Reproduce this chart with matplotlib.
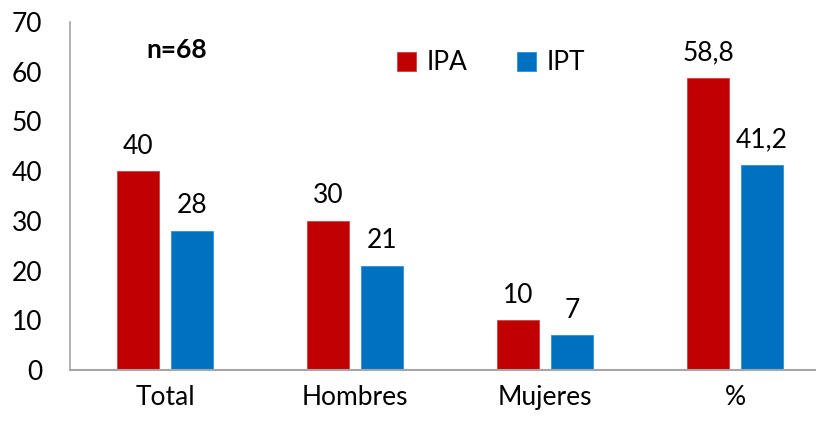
import numpy as np
import matplotlib.pyplot as plt

categories = ["Total", "Hombres", "Mujeres", "%"]
ipa = [40, 30, 10, 58.8]
ipt = [28, 21, 7, 41.2]
ipa_labels = ["40", "30", "10", "58,8"]
ipt_labels = ["28", "21", "7", "41,2"]

plt.rcParams["font.family"] = ["Lato", "DejaVu Sans"]
fs = 19

fig = plt.figure(figsize=(8.16, 4.21), dpi=100)
ax = fig.add_axes([70 / 816, 51 / 421, 760 / 816, 348 / 421])

x = np.arange(len(categories))
w = 0.22
off = 0.142
b1 = ax.bar(x - off, ipa, w, color="#C00000", edgecolor="#D04040", linewidth=0.6, label="IPA")
b2 = ax.bar(x + off, ipt, w, color="#0070C0", edgecolor="#3090D8", linewidth=0.6, label="IPT")

for bars, labs in ((b1, ipa_labels), (b2, ipt_labels)):
    for r, t in zip(bars, labs):
        ax.annotate(t, xy=(r.get_x() + r.get_width() / 2, r.get_height()),
                    xytext=(0, 9), textcoords="offset points",
                    ha="center", va="bottom", fontsize=fs, color="#000000")

ax.set_xlim(-0.5, 3.5)
ax.set_ylim(0, 70)
ax.set_yticks(range(0, 71, 10))
ax.set_xticks(x)
ax.set_xticklabels(categories)
ax.tick_params(axis="both", length=0, labelsize=fs, colors="#000000")
ax.tick_params(axis="y", pad=20)
ax.tick_params(axis="x", pad=11)
for s in ("top", "right"):
    ax.spines[s].set_visible(False)
ax.spines["left"].set_color("#A6A6A6")
ax.spines["bottom"].set_color("#A6A6A6")
ax.spines["left"].set_linewidth(1.2)
ax.spines["bottom"].set_linewidth(1.5)

fig.text(177 / 816, 1 - 50 / 421, "n=68", fontsize=fs, fontweight="bold",
         ha="center", va="center")

fig.legend(handles=[b1, b2], loc="center", bbox_to_anchor=(491 / 816, 1 - 63 / 421),
           ncol=2, frameon=False, fontsize=fs, handlelength=0.7, handleheight=0.7,
           handletextpad=0.4, columnspacing=1.9)

fig.savefig("out.png", dpi=100)
